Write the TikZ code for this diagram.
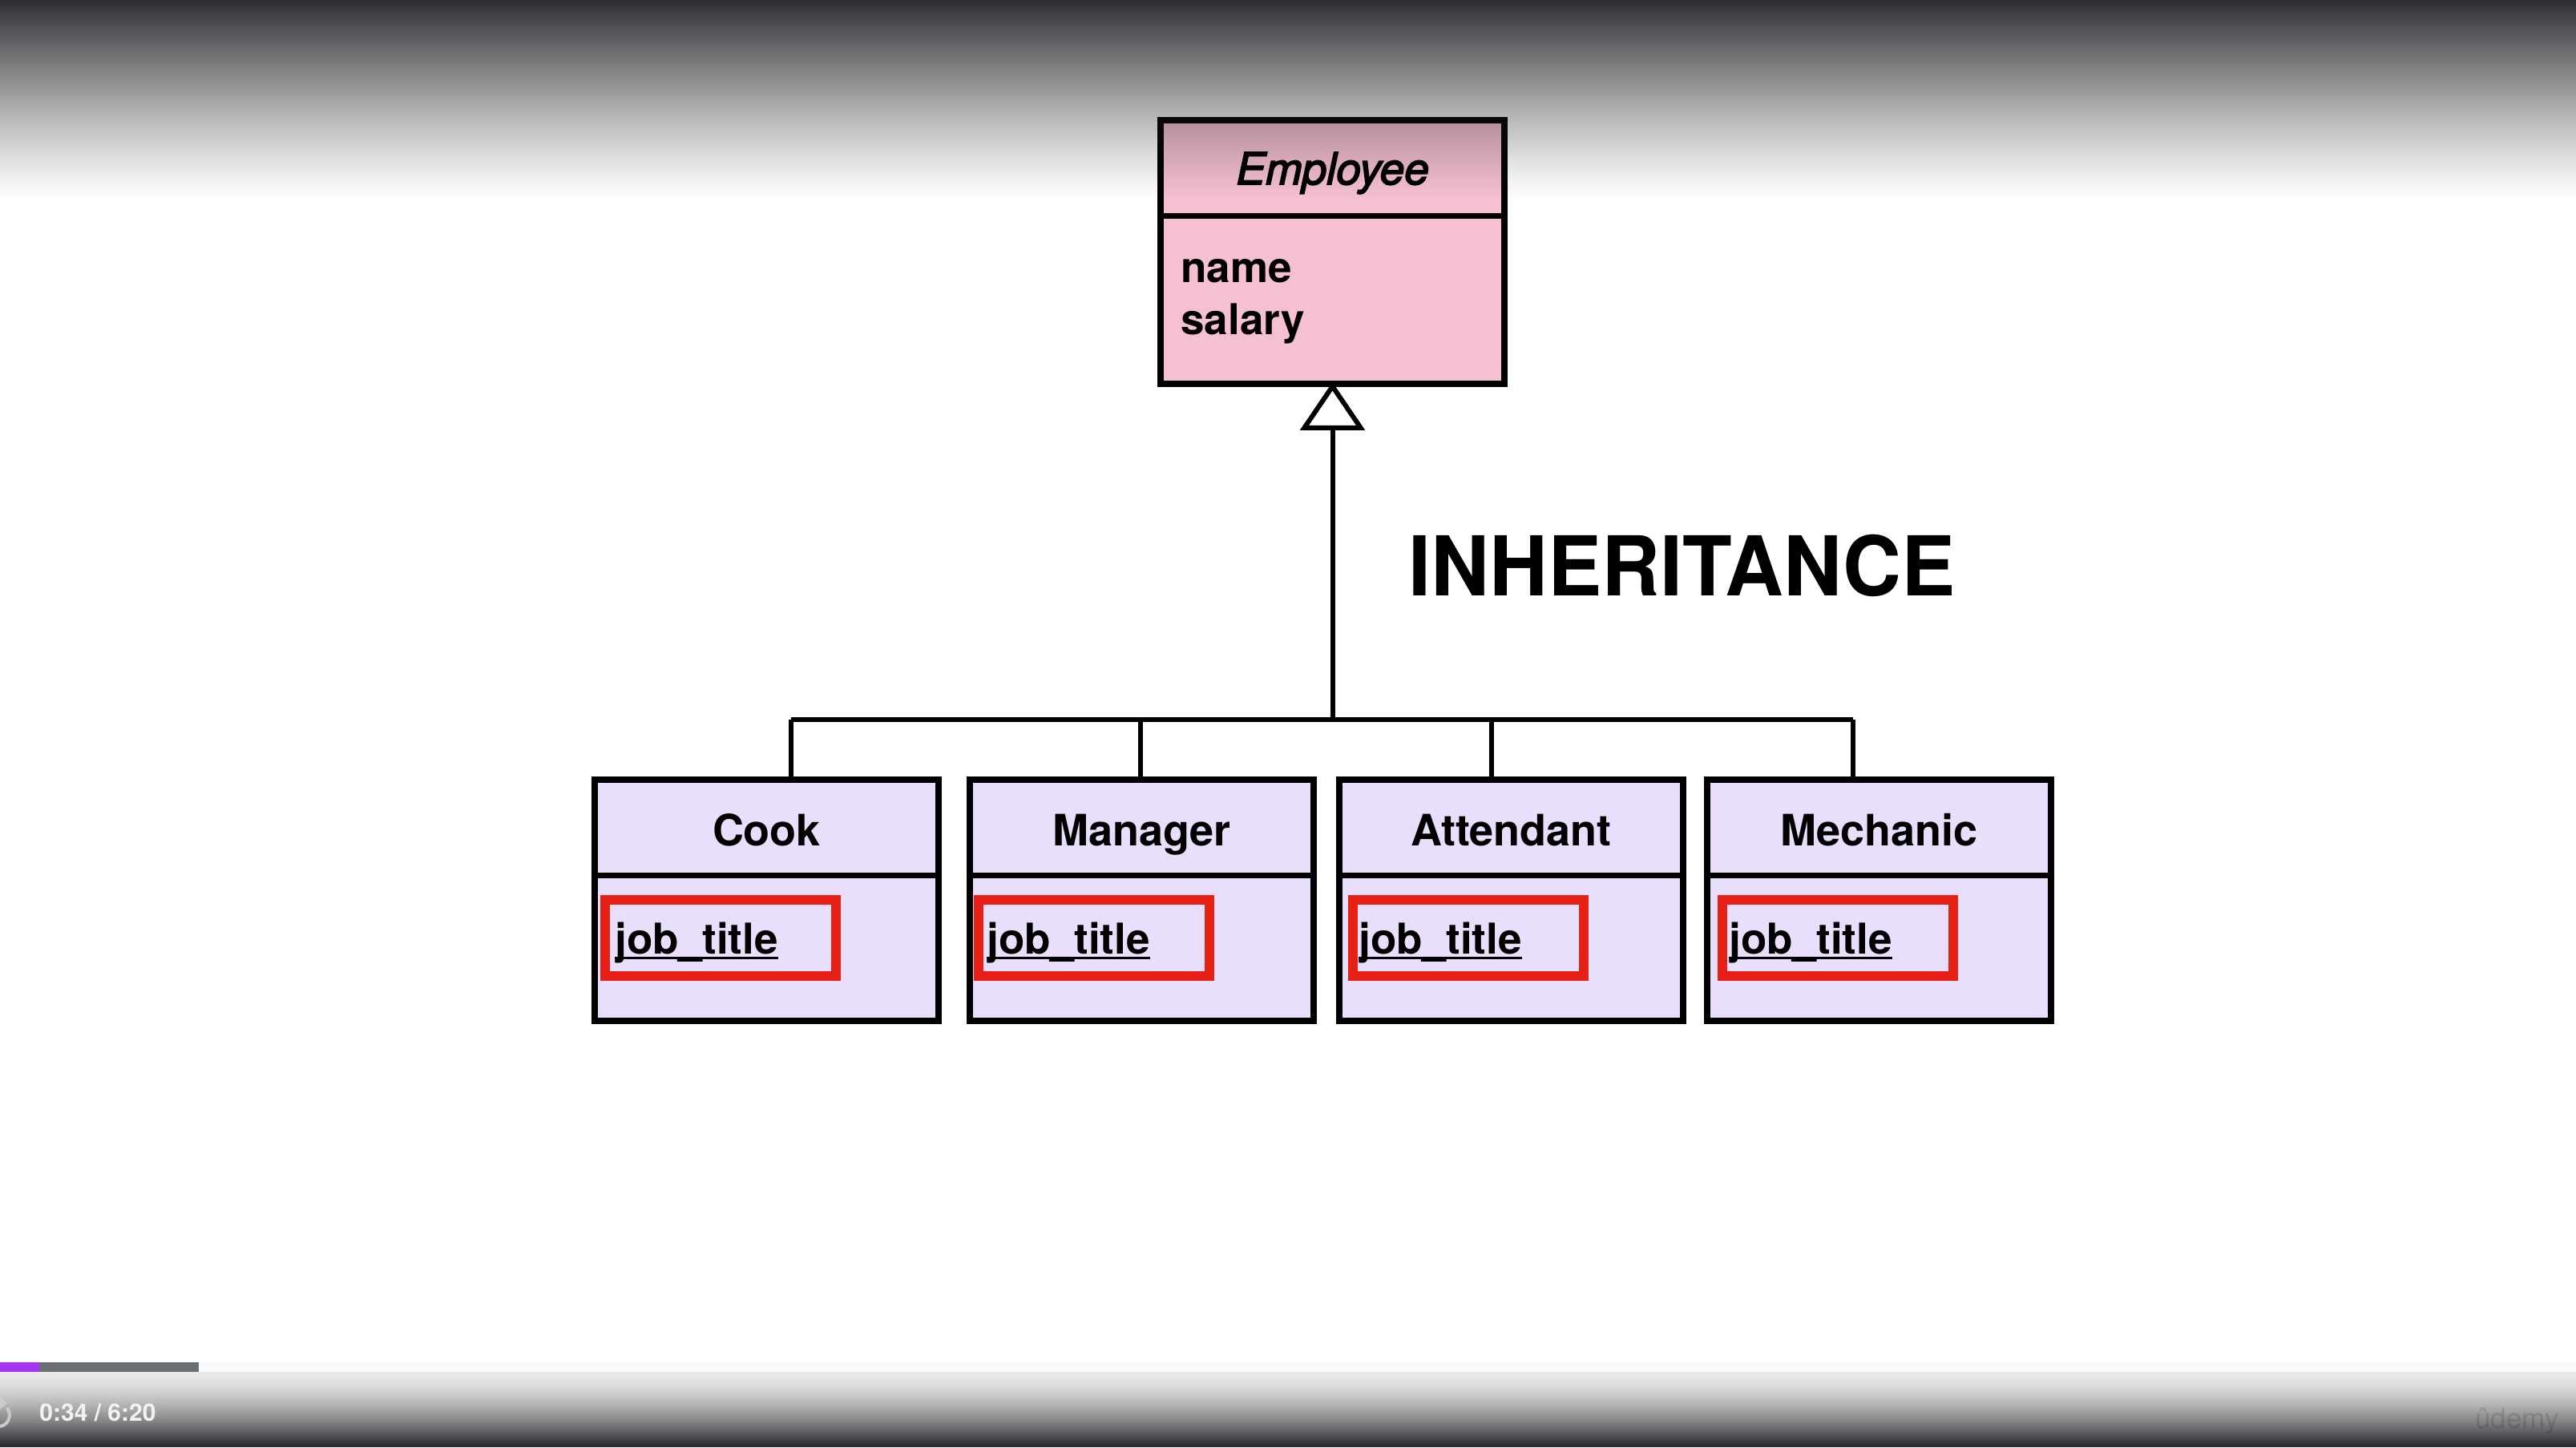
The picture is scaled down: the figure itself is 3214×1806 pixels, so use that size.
\documentclass[tikz,border=0pt]{standalone}
\usepackage{fontspec}
\setmainfont{TeX Gyre Heros}
\newfontface\empface[FakeBold=3]{texgyreheros-italic.otf}
\usepackage{graphicx}
\usetikzlibrary{arrows.meta,calc}

\definecolor{empfill}{HTML}{F5C0D0}
\definecolor{subfill}{HTML}{E9DFFC}
\definecolor{hilite}{HTML}{E62014}
\definecolor{shadow}{HTML}{1C1D21}
\definecolor{udpurple}{HTML}{A435F0}
\definecolor{udgray}{HTML}{6A6F73}
\definecolor{udlight}{HTML}{F7F9FA}
\definecolor{iconcol}{HTML}{C9CACC}

\begin{document}
\begin{tikzpicture}[x=0.5pt,y=-0.5pt,
  classbox/.style={draw, line width=3.75pt, inner sep=0pt, minimum width=214.5pt},
  divider/.style={line width=3.75pt},
  link/.style={line width=3pt},
  attrbox/.style={draw=hilite, line width=6pt, inner sep=0pt,
                  minimum width=144pt, minimum height=47.5pt},
  titletext/.style={inner sep=0pt, font=\bfseries\fontsize{27pt}{32pt}\selectfont},
  attrtext/.style={inner sep=0pt, font=\bfseries\fontsize{26.5pt}{32pt}\selectfont},
  underbar/.style={line width=1.5pt}]

\useasboundingbox (0,0) rectangle (3214,1806);
\fill[white] (0,0) rectangle (3214,1806);

% superclass
\node[classbox, fill=empfill, minimum height=164.5pt] (emp) at (1662.5,314.5) {};
\draw[divider] ($(emp.north west)+(0,123)$) -- ($(emp.north east)+(0,123)$);
\node[inner sep=0pt, anchor=base, font=\empface\fontsize{27.5pt}{33pt}\selectfont]
  (emptitle) at (1662.5,230) {Employee};
\node[attrtext, anchor=base west] (empname) at (1473,352) {name};
\node[attrtext, anchor=base west] (empsalary) at (1473,417) {salary};

% subclasses
\foreach \nm/\lab/\cx/\drop/\roff/\toff in {%
    cook/Cook/956.5/30.5/12.5/12.5,
    manager/Manager/1424.5/-1.5/10.5/10.5,
    attendant/Attendant/1885.5/-24.5/16.5/7.5,
    mechanic/Mechanic/2344.5/-32.5/18.5/8.5}{
  \node[classbox, fill=subfill, minimum height=150.5pt] (\nm) at (\cx,1123.5) {};
  \draw[divider] ($(\nm.north west)+(0,123)$) -- ($(\nm.north east)+(0,123)$);
  \node[titletext, anchor=base] (\nm-title) at (\cx,1055) {\lab};
  \node[attrbox] (\nm-attr) at (\cx-214.5+\roff+144,1170) {};
  \node[attrtext, anchor=base west] (\nm-jt) at (\cx-214.5+\roff+\toff,1190) {job\_title};
  \draw[underbar] ($(\nm-jt.base west)+(0,5)$) -- ($(\nm-jt.base east)+(0,5)$);
  \coordinate (\nm-drop) at (\cx+\drop,898);
  \draw[link] (\nm-drop) -- (\nm-drop |- \nm.north);
}

% generalisation tree
\draw[link] (cook-drop) -- (mechanic-drop);
\coordinate (hub) at (1662.5,898);
\draw[link, -{Triangle[open, length=30pt, width=40pt, line join=miter]}] (hub) -- ($(emp.south)+(0,-6)$);

\node[inner sep=0pt, anchor=base west, font=\bfseries\fontsize{51.5pt}{60pt}\selectfont]
  (label) at (1757,743) {\scalebox{0.98}[1]{INHERITANCE}};

% player chrome: top shade
\foreach \i in {0,...,123}{
  \pgfmathsetmacro\a{0.92*(1-(\i*2+1)/250)^1.2}
  \fill[shadow, opacity=\a] (0,\i*2) rectangle (3214,\i*2+2);
}
% player chrome: bottom shade
\foreach \i in {0,...,46}{
  \pgfmathsetmacro\s{(\i*2+1)/88}
  \pgfmathsetmacro\a{min(0.10+0.78*\s^1.6,0.93)}
  \fill[shadow, opacity=\a] (0,1712+\i*2) rectangle (3214,1714+\i*2);
}
% progress bar
\fill[udlight] (0,1700) rectangle (3214,1712);
\fill[udgray] (0,1700) rectangle (248,1712);
\fill[udpurple] (0,1700) rectangle (49,1712);

% replay icon, cut by the left edge
\draw[iconcol, line width=2pt] (-2,1766) ++(-40:14) arc[start angle=-40, end angle=110, radius=14];
\fill[iconcol] (0,1743) -- (9,1751) -- (0,1759) -- cycle;

\node[inner sep=0pt, anchor=base west, text=white!95!black,
  font=\bfseries\fontsize{15pt}{18pt}\selectfont] (time) at (49,1773) {0:34 / 6:20};
\node[inner sep=0pt, anchor=base west, text=black, opacity=0.13,
  font=\fontsize{17.5pt}{20pt}\selectfont] (brand) at (3088,1782) {ûdemy};
\end{tikzpicture}
\end{document}
